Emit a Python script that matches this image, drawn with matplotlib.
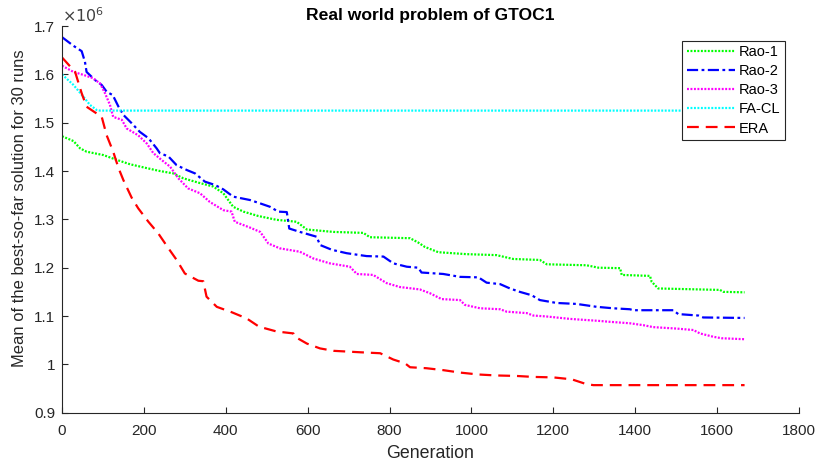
import matplotlib
matplotlib.use("Agg")
import matplotlib.pyplot as plt
from matplotlib.ticker import FuncFormatter, MultipleLocator
import numpy as np

plt.rcParams["font.family"] = ["Liberation Sans", "DejaVu Sans"]
plt.rcParams["lines.scale_dashes"] = False

SCALE = 1e6  # objective values are listed in millions

# Rao-1 convergence (generation, mean best-so-far in millions)
rao1_gen = [0, 28, 44, 60, 101, 134, 166, 207, 239, 272, 296, 337, 369, 394, 418,
            443, 479, 524, 573, 598, 663, 736, 752, 850, 870, 886, 919, 988, 1061,
            1102, 1167, 1184, 1281, 1310, 1363, 1367, 1436, 1440, 1456, 1607, 1615, 1667]
rao1_val = [1.472, 1.462, 1.447, 1.440, 1.433, 1.423, 1.414, 1.406, 1.400, 1.395, 1.385,
            1.375, 1.368, 1.354, 1.326, 1.316, 1.307, 1.299, 1.295, 1.279, 1.274, 1.272,
            1.263, 1.261, 1.252, 1.243, 1.232, 1.228, 1.226, 1.218, 1.216, 1.207, 1.205,
            1.200, 1.199, 1.185, 1.183, 1.171, 1.157, 1.154, 1.150, 1.149]

# Rao-2 convergence
rao2_gen = [0, 28, 48, 56, 60, 81, 97, 109, 124, 138, 150, 170, 190, 211, 231, 239,
            260, 280, 305, 325, 349, 374, 394, 418, 459, 484, 508, 528, 549, 555, 581,
            622, 630, 659, 695, 744, 785, 809, 842, 870, 878, 931, 972, 1017, 1037,
            1070, 1094, 1118, 1147, 1167, 1208, 1257, 1306, 1346, 1387, 1395, 1493,
            1505, 1554, 1566, 1667]
rao2_val = [1.677, 1.659, 1.648, 1.626, 1.605, 1.588, 1.578, 1.564, 1.557, 1.533, 1.516,
            1.499, 1.481, 1.468, 1.447, 1.437, 1.430, 1.412, 1.402, 1.395, 1.378, 1.371,
            1.362, 1.347, 1.340, 1.333, 1.326, 1.316, 1.315, 1.281, 1.274, 1.264, 1.247,
            1.237, 1.230, 1.224, 1.223, 1.209, 1.202, 1.200, 1.190, 1.187, 1.181, 1.180,
            1.169, 1.166, 1.157, 1.150, 1.143, 1.133, 1.127, 1.125, 1.119, 1.116, 1.114,
            1.112, 1.112, 1.104, 1.101, 1.097, 1.096]

# Rao-3 convergence
rao3_gen = [0, 28, 52, 76, 93, 105, 117, 125, 146, 158, 186, 207, 223, 243, 264, 284,
            308, 337, 361, 394, 414, 422, 459, 484, 504, 532, 581, 614, 654, 703, 720,
            760, 793, 825, 874, 899, 927, 972, 984, 1021, 1070, 1086, 1135, 1151, 1184,
            1241, 1310, 1338, 1387, 1420, 1444, 1501, 1542, 1558, 1591, 1611, 1667]
rao3_val = [1.618, 1.605, 1.599, 1.592, 1.581, 1.561, 1.537, 1.512, 1.506, 1.488, 1.474,
            1.457, 1.437, 1.423, 1.409, 1.385, 1.364, 1.354, 1.336, 1.319, 1.316, 1.295,
            1.283, 1.274, 1.250, 1.240, 1.233, 1.219, 1.209, 1.202, 1.187, 1.185, 1.168,
            1.160, 1.155, 1.147, 1.135, 1.133, 1.123, 1.116, 1.114, 1.109, 1.106, 1.101,
            1.099, 1.094, 1.090, 1.088, 1.085, 1.081, 1.077, 1.074, 1.071, 1.064, 1.057,
            1.054, 1.052]

# FA-CL convergence
facl_gen = [0, 28, 52, 68, 85, 93, 1667]
facl_val = [1.600, 1.578, 1.554, 1.537, 1.526, 1.525, 1.525]

# ERA convergence
era_gen = [0, 32, 48, 60, 97, 109, 125, 138, 150, 170, 186, 211, 235, 260, 280, 300,
           333, 345, 353, 378, 414, 451, 481, 524, 565, 567, 598, 630, 663, 728, 777,
           809, 838, 850, 890, 931, 972, 1017, 1061, 1110, 1151, 1200, 1245, 1281,
           1298, 1667]
era_val = [1.635, 1.605, 1.561, 1.533, 1.512, 1.474, 1.440, 1.406, 1.381, 1.345, 1.323,
           1.295, 1.271, 1.240, 1.216, 1.188, 1.173, 1.172, 1.140, 1.119, 1.108, 1.095,
           1.078, 1.068, 1.064, 1.058, 1.043, 1.033, 1.028, 1.025, 1.023, 1.010, 1.002,
           0.994, 0.992, 0.988, 0.983, 0.979, 0.977, 0.976, 0.974, 0.973, 0.969, 0.959,
           0.957, 0.957]

series = [
    ("Rao-1", rao1_gen, rao1_val, "#00FF00", (0, (1.4, 1.1))),
    ("Rao-2", rao2_gen, rao2_val, "#0000FF", (0, (8.0, 2.5, 2.0, 2.5))),
    ("Rao-3", rao3_gen, rao3_val, "#FF00FF", (0, (1.4, 1.1))),
    ("FA-CL", facl_gen, facl_val, "#00FFFF", (0, (1.4, 1.1))),
    ("ERA", era_gen, era_val, "#FF0000", (0, (8.5, 5.0))),
]

fig = plt.figure(figsize=(8.17, 4.68), dpi=100)
ax = fig.add_axes([0.0759, 0.1182, 0.9021, 0.8262])

for name, gen, val, color, ls in series:
    ax.plot(gen, np.asarray(val) * SCALE, color=color, linestyle=ls, lw=1.6, label=name)

ax.set_xlim(0, 1800)
ax.set_ylim(0.9 * SCALE, 1.7 * SCALE)
ax.xaxis.set_major_locator(MultipleLocator(200))
ax.yaxis.set_major_locator(MultipleLocator(0.1 * SCALE))
ax.yaxis.set_major_formatter(FuncFormatter(lambda v, p: f"{v / SCALE:g}"))

axis_color = "#262626"
for side in ("top", "right"):
    ax.spines[side].set_visible(False)
for side in ("left", "bottom"):
    ax.spines[side].set_color(axis_color)
    ax.spines[side].set_linewidth(0.8)
ax.tick_params(direction="in", length=4, width=0.8, colors=axis_color,
               labelsize=11)
ax.tick_params(axis="x", pad=8)
ax.tick_params(axis="y", pad=5)

ax.text(0.0, 1.003, r"$\times10^{6}$", transform=ax.transAxes, fontsize=11.5,
        color="#404040", ha="left", va="bottom")

ax.set_title("Real world problem of GTOC1", fontsize=12.6, fontweight="bold", pad=4)
ax.set_xlabel("Generation", fontsize=12.8, color=axis_color, labelpad=5)
ax.set_ylabel("Mean of the best-so-far solution for 30 runs", fontsize=11.9,
              color=axis_color, labelpad=6)
ax.yaxis.set_label_coords(-0.048, 0.53)

leg = ax.legend(loc="upper right", bbox_to_anchor=(0.981, 0.962), fontsize=10.5,
                handlelength=3.3, handletextpad=0.3, labelspacing=0.35,
                borderpad=0.3, borderaxespad=0.0, fancybox=False, framealpha=1)
leg.get_frame().set_edgecolor(axis_color)
leg.get_frame().set_linewidth(0.8)

fig.savefig("out.png", dpi=100)
